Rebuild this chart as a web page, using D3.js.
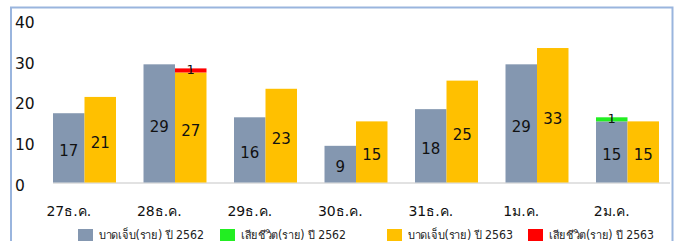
<!DOCTYPE html>
<html>
<head>
<meta charset="utf-8">
<script src="https://cdn.jsdelivr.net/npm/d3@7"></script>
<style>
  body { margin: 0; background: #fff; }
  svg { display: block; font-family: "DejaVu Sans", "Noto Sans", sans-serif; }
</style>
</head>
<body>
<svg width="680" height="241"></svg>
<script>
(function() {
  // data
  var days = ["27ธ.ค.", "28ธ.ค.", "29ธ.ค.", "30ธ.ค.", "31ธ.ค.", "1ม.ค.", "2ม.ค."];
  var injured62 = [17, 29, 16, 9, 18, 29, 15];
  var dead62 = [0, 0, 0, 0, 0, 0, 1];
  var injured63 = [21, 27, 23, 15, 25, 33, 15];
  var dead63 = [0, 1, 0, 0, 0, 0, 0];
  var yTicks = [0, 10, 20, 30, 40];
  var legendNames = ["บาดเจ็บ(ราย) ปี 2562", "เสียชีวิต(ราย) ปี 2562", "บาดเจ็บ(ราย) ปี 2563", "เสียชีวิต(ราย) ปี 2563"];

  var colors = ["#8497b0", "#22ee22", "#ffc000", "#ff0000"];

  var svg = d3.select("svg"),
    width = +svg.attr("width"),
    height = +svg.attr("height");

  // frame
  svg.append("path")
      .attr("d", "M11,245V7.5H672.5V245")
      .attr("fill", "none")
      .attr("stroke", "#9ab5de")
      .attr("stroke-width", 2);

  var x = d3.scaleBand()
      .domain(days)
      .range([39.25, 672.75])
      .paddingInner(0.304)
      .paddingOuter(0.152);

  var xs = d3.scaleBand()
      .domain(["y62", "y63"])
      .range([0, x.bandwidth()]);

  var y = d3.scaleLinear()
      .domain([0, 40])
      .range([182.5, 19.5]);

  // y labels
  svg.append("g")
    .selectAll("text")
    .data(yTicks)
    .enter().append("text")
      .attr("x", 15)
      .attr("y", function(d) { return y(d) + 3; })
      .attr("dy", "0.35em")
      .attr("font-size", 15.5)
      .attr("fill", "#111")
      .text(function(d) { return d; });

  // baseline
  svg.append("line")
      .attr("x1", 53).attr("x2", 670)
      .attr("y1", y(0) + 0.5).attr("y2", y(0) + 0.5)
      .attr("stroke", "#d9d9d9")
      .attr("stroke-width", 1.5);

  var groups = svg.append("g")
    .selectAll("g")
    .data(days)
    .enter().append("g")
      .attr("transform", function(d) { return "translate(" + x(d) + ",0)"; });

  function stack(key, base, top, cBase, cTop) {
    groups.append("rect")
        .attr("x", xs(key))
        .attr("width", xs.bandwidth())
        .attr("y", function(d, i) { return y(base[i]); })
        .attr("height", function(d, i) { return y(0) - y(base[i]); })
        .attr("fill", cBase);
    groups.filter(function(d, i) { return top[i] > 0; })
      .append("rect")
        .attr("x", xs(key))
        .attr("width", xs.bandwidth())
        .attr("y", function(d) { var i = days.indexOf(d); return y(base[i] + top[i]); })
        .attr("height", function(d) { var i = days.indexOf(d); return y(base[i]) - y(base[i] + top[i]); })
        .attr("fill", cTop);
    groups.append("text")
        .attr("x", xs(key) + xs.bandwidth() / 2)
        .attr("y", function(d, i) { return (y(base[i]) + y(0)) / 2 + 3; })
        .attr("dy", "0.35em")
        .attr("text-anchor", "middle")
        .attr("font-size", 15)
        .attr("fill", "#111")
        .text(function(d, i) { return base[i]; });
    groups.filter(function(d, i) { return top[i] > 0; })
      .append("text")
        .attr("x", xs(key) + xs.bandwidth() / 2)
        .attr("y", function(d) { var i = days.indexOf(d); return y(base[i] + top[i]) + 1; })
        .attr("dy", "0.35em")
        .attr("text-anchor", "middle")
        .attr("font-size", 13)
        .attr("fill", "#111")
        .text(function(d) { return top[days.indexOf(d)]; });
  }

  stack("y62", injured62, dead62, colors[0], colors[1]);
  stack("y63", injured63, dead63, colors[2], colors[3]);

  // x labels, centred under the first bar like the original
  svg.append("g")
    .selectAll("text")
    .data(days)
    .enter().append("text")
      .attr("x", function(d) { return x(d) + xs.bandwidth() / 2; })
      .attr("y", 211)
      .attr("dy", "0.35em")
      .attr("text-anchor", "middle")
      .attr("font-size", 14)
      .attr("fill", "#111")
      .text(function(d) { return d; });

  // legend
  var legX = [78, 220, 387, 528];
  var leg = svg.append("g")
    .selectAll("g")
    .data(legendNames)
    .enter().append("g")
      .attr("transform", function(d, i) { return "translate(" + legX[i] + ",229)"; });

  leg.append("rect")
      .attr("width", 15)
      .attr("height", 15)
      .attr("fill", function(d, i) { return colors[i]; });

  leg.append("text")
      .attr("x", 21)
      .attr("y", 5.5)
      .attr("dy", "0.35em")
      .attr("font-size", 11.5)
      .attr("textLength", 105)
      .attr("lengthAdjust", "spacingAndGlyphs")
      .attr("fill", "#222")
      .text(function(d) { return d; });
})();
</script>
</body>
</html>
